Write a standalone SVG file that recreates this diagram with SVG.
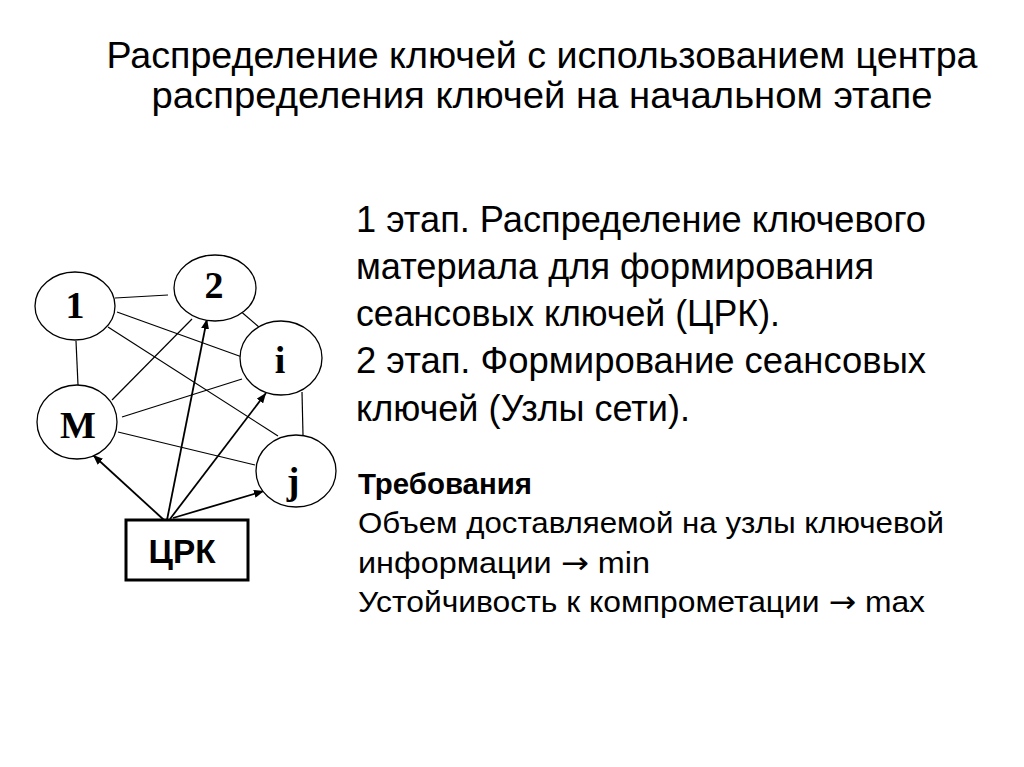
<svg xmlns="http://www.w3.org/2000/svg" width="1024" height="767" viewBox="0 0 1024 767">
<defs>
<style>
.t{font-family:"Liberation Sans","DejaVu Sans",sans-serif;fill:#000}
.ar{font-family:"DejaVu Sans",sans-serif;font-size:30px}
.node ellipse{fill:#fff;stroke:#000;stroke-width:1.3}
.nl{font-family:"Liberation Serif","DejaVu Serif",serif;font-weight:bold;font-size:38px;text-anchor:middle;fill:#000}
.edge{stroke:#000;stroke-width:1.2;fill:none}
.arr{stroke:#000;stroke-width:1.8;fill:none;marker-end:url(#ah)}
</style>
<marker id="ah" viewBox="0 0 10 8" refX="10" refY="4" markerWidth="10" markerHeight="8" markerUnits="userSpaceOnUse" orient="auto">
<path d="M0,0 L10,4 L0,8 Z" fill="#000"/>
</marker>
</defs>
<rect width="1024" height="767" fill="#fff"/>
<g id="title" class="t" font-size="36">
<text x="542" y="68" text-anchor="middle" textLength="871" lengthAdjust="spacingAndGlyphs">Распределение ключей с использованием центра</text>
<text x="542" y="108" text-anchor="middle" textLength="781" lengthAdjust="spacingAndGlyphs">распределения ключей на начальном этапе</text>
</g>
<g id="stages" class="t" font-size="36">
<text x="356" y="232" textLength="570" lengthAdjust="spacingAndGlyphs">1 этап. Распределение ключевого</text>
<text x="356" y="279" textLength="518" lengthAdjust="spacingAndGlyphs">материала для формирования</text>
<text x="356" y="326" textLength="424" lengthAdjust="spacingAndGlyphs">сеансовых ключей (ЦРК).</text>
<text x="356" y="373" textLength="570" lengthAdjust="spacingAndGlyphs">2 этап. Формирование сеансовых</text>
<text x="356" y="421" textLength="334" lengthAdjust="spacingAndGlyphs">ключей (Узлы сети).</text>
</g>
<g id="requirements" class="t" font-size="29">
<text x="358" y="494" font-weight="bold" textLength="174" lengthAdjust="spacingAndGlyphs">Требования</text>
<text x="358" y="533" textLength="586" lengthAdjust="spacingAndGlyphs">Объем доставляемой на узлы ключевой</text>
<text x="358" y="573" textLength="292" lengthAdjust="spacingAndGlyphs">информации <tspan class="ar">→</tspan> min</text>
<text x="358" y="612" textLength="567" lengthAdjust="spacingAndGlyphs">Устойчивость к компрометации <tspan class="ar">→</tspan> max</text>
</g>
<g id="connectors">
<line class="edge" x1="115" y1="298" x2="168" y2="295"/>
<line class="edge" x1="117" y1="312" x2="242" y2="357"/>
<line class="edge" x1="108" y1="327" x2="278" y2="436"/>
<line class="edge" x1="76" y1="341" x2="78" y2="385"/>
<line class="edge" x1="238" y1="309" x2="260" y2="328"/>
<line class="edge" x1="112" y1="400" x2="192" y2="319"/>
<line class="edge" x1="122" y1="417" x2="242" y2="379"/>
<line class="edge" x1="302" y1="392" x2="303" y2="435"/>
<line class="edge" x1="118" y1="432" x2="255" y2="465"/>
<line class="arr" x1="164" y1="520" x2="93" y2="455"/>
<line class="arr" x1="167" y1="520" x2="207" y2="319"/>
<line class="arr" x1="170" y1="519" x2="266" y2="393"/>
<line class="arr" x1="173" y1="518" x2="264" y2="491"/>
</g>
<g id="n1" class="node"><ellipse cx="75" cy="306" rx="40" ry="34"/><text class="nl" x="75" y="318">1</text></g>
<g id="n2" class="node"><ellipse cx="215" cy="288" rx="41" ry="33"/><text class="nl" x="214" y="298">2</text></g>
<g id="ni" class="node"><ellipse cx="281" cy="358" rx="41" ry="37"/><text class="nl" x="280" y="373">i</text></g>
<g id="nM" class="node"><ellipse cx="77" cy="422" rx="40" ry="37"/><text class="nl" x="78" y="438">M</text></g>
<g id="nj" class="node"><ellipse cx="296" cy="471" rx="40" ry="36"/><text class="nl" x="293" y="494">j</text></g>
<g id="crk">
<rect x="126" y="520" width="122" height="60" fill="#fff" stroke="#000" stroke-width="3"/>
<text class="t" x="182" y="563" font-size="34" font-weight="bold" text-anchor="middle" textLength="67" lengthAdjust="spacingAndGlyphs">ЦРК</text>
</g>
</svg>
